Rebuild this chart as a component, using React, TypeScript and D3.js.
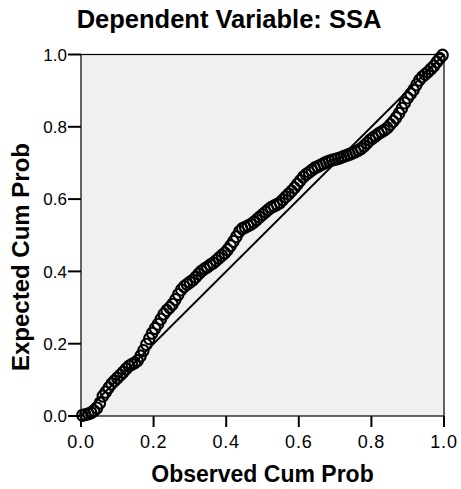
import React from "react";
import * as d3 from "d3";

const title = "Dependent Variable: SSA";
const xTitle = "Observed Cum Prob";
const yTitle = "Expected Cum Prob";
const tickValues = [0, 0.2, 0.4, 0.6, 0.8, 1.0];

const observed = [
  0.004, 0.012, 0.02, 0.028, 0.036, 0.044, 0.052, 0.06, 0.068, 0.076,
  0.084, 0.092, 0.1, 0.108, 0.116, 0.124, 0.132, 0.14, 0.148, 0.156,
  0.164, 0.172, 0.18, 0.188, 0.196, 0.204, 0.212, 0.22, 0.228, 0.236,
  0.244, 0.252, 0.26, 0.268, 0.276, 0.284, 0.292, 0.3, 0.308, 0.316,
  0.324, 0.332, 0.34, 0.348, 0.356, 0.364, 0.372, 0.38, 0.388, 0.396,
  0.404, 0.412, 0.42, 0.428, 0.436, 0.444, 0.452, 0.46, 0.468, 0.476,
  0.484, 0.492, 0.5, 0.508, 0.516, 0.524, 0.532, 0.54, 0.548, 0.556,
  0.564, 0.572, 0.58, 0.588, 0.596, 0.604, 0.612, 0.62, 0.628, 0.636,
  0.644, 0.652, 0.66, 0.668, 0.676, 0.684, 0.692, 0.7, 0.708, 0.716,
  0.724, 0.732, 0.74, 0.748, 0.756, 0.764, 0.772, 0.78, 0.788, 0.796,
  0.804, 0.812, 0.82, 0.828, 0.836, 0.844, 0.852, 0.86, 0.868, 0.876,
  0.884, 0.892, 0.9, 0.908, 0.916, 0.924, 0.932, 0.94, 0.948, 0.956,
  0.964, 0.972, 0.98, 0.988, 0.996,
];

const expected = [
  0.002, 0.004, 0.006, 0.009, 0.014, 0.022, 0.036, 0.055, 0.066, 0.078,
  0.089, 0.097, 0.105, 0.113, 0.121, 0.13, 0.138, 0.143, 0.147, 0.153,
  0.166, 0.181, 0.198, 0.214, 0.229, 0.242, 0.254, 0.268, 0.282, 0.292,
  0.3, 0.309, 0.322, 0.336, 0.349, 0.358, 0.364, 0.37, 0.376, 0.384,
  0.393, 0.401, 0.407, 0.412, 0.418, 0.423, 0.43, 0.437, 0.444, 0.451,
  0.46, 0.471, 0.483, 0.496, 0.51, 0.518, 0.522, 0.526, 0.53, 0.536,
  0.543, 0.55, 0.557, 0.564, 0.571, 0.577, 0.581, 0.585, 0.59, 0.598,
  0.606, 0.614, 0.622, 0.631, 0.641, 0.651, 0.661, 0.668, 0.674, 0.68,
  0.686, 0.69, 0.694, 0.698, 0.702, 0.705, 0.708, 0.71, 0.712, 0.715,
  0.718, 0.721, 0.724, 0.727, 0.731, 0.735, 0.74, 0.747, 0.755, 0.763,
  0.769, 0.775, 0.781, 0.786, 0.791, 0.797, 0.806, 0.815, 0.825, 0.837,
  0.851, 0.866, 0.88, 0.891, 0.902, 0.916, 0.929, 0.938, 0.945, 0.952,
  0.96, 0.968, 0.979, 0.989, 0.998,
];

const W = 461;
const H = 489;
const left = 81;
const right = 444;
const top = 54.5;
const bottom = 416;
const font = "'Liberation Sans', Arial, Helvetica, sans-serif";

export default function App() {
  const x = d3.scaleLinear().domain([0, 1]).range([left, right]);
  const y = d3.scaleLinear().domain([0, 1]).range([bottom, top]);
  const fmt = d3.format(".1f");
  const line = d3.line<number>().x((d) => x(d)).y((d) => y(d));

  return (
    <svg
      width={W}
      height={H}
      style={{ position: "absolute", left: 0, top: 0, background: "#fff" }}
    >
      <rect x={left} y={top} width={right - left} height={bottom - top} fill="#f0f0f0" />
      <path d={line([0, 1]) || ""} stroke="#000" strokeWidth={1.8} fill="none" />
      <g>
        {observed.map((o, i) => (
          <ellipse
            key={i}
            cx={x(o)}
            cy={y(expected[i])}
            rx={5.2}
            ry={5.6}
            fill="none"
            stroke="#000"
            strokeWidth={2.1}
          />
        ))}
      </g>
      <rect
        x={left}
        y={top}
        width={right - left}
        height={bottom - top}
        fill="none"
        stroke="#000"
        strokeWidth={1.2}
      />
      {tickValues.map((t) => (
        <g key={"x" + t}>
          <line x1={x(t)} x2={x(t)} y1={bottom} y2={bottom + 11} stroke="#000" strokeWidth={2} />
          <text
            x={x(t)}
            y={448}
            textAnchor="middle"
            fontFamily={font}
            fontSize={18}
            letterSpacing={0.8}
            fill="#000"
          >
            {fmt(t)}
          </text>
        </g>
      ))}
      {tickValues.map((t) => (
        <g key={"y" + t}>
          <line x1={left - 13} x2={left} y1={y(t)} y2={y(t)} stroke="#000" strokeWidth={2} />
          <text
            x={67}
            y={y(t)}
            dy="0.36em"
            textAnchor="end"
            fontFamily={font}
            fontSize={17}
            fill="#000"
          >
            {fmt(t)}
          </text>
        </g>
      ))}
      <text
        x={229}
        y={28}
        textAnchor="middle"
        fontFamily={font}
        fontWeight="bold"
        fontSize={25.5}
        fill="#000"
      >
        {title}
      </text>
      <text
        x={262.5}
        y={482}
        textAnchor="middle"
        fontFamily={font}
        fontWeight="bold"
        fontSize={23}
        fill="#000"
      >
        {xTitle}
      </text>
      <text
        transform="translate(29,257) rotate(-90)"
        textAnchor="middle"
        fontFamily={font}
        fontWeight="bold"
        fontSize={24}
        fill="#000"
      >
        {yTitle}
      </text>
    </svg>
  );
}
